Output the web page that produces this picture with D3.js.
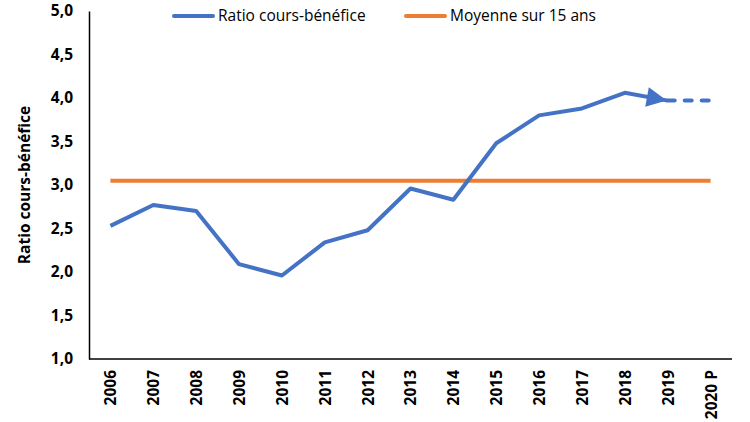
<!DOCTYPE html>
<html><head><meta charset="utf-8">
<script src="https://cdn.jsdelivr.net/npm/d3@7"></script>
<style>body{margin:0;background:#fff}svg{display:block}</style>
</head><body>
<svg id="c" width="750" height="422"></svg>
<script>
const categories = ["2006","2007","2008","2009","2010","2011","2012","2013","2014","2015","2016","2017","2018","2019","2020 P"];
const ratio = [2.53,2.77,2.70,2.09,1.96,2.34,2.48,2.96,2.83,3.48,3.80,3.88,4.06,3.97,3.97];
const average = 3.05;
const yTicks = [1.0,1.5,2.0,2.5,3.0,3.5,4.0,4.5,5.0];
const seriesNames = ["Ratio cours-bénéfice","Moyenne sur 15 ans"];
const yTitle = "Ratio cours-bénéfice";

const blue = "#4472C4", orange = "#ED7D31";
const font = "Open Sans, Liberation Sans, sans-serif";
const svg = d3.select("#c");
const L = 89, R = 732, T = 11, B = 359;
const x = d3.scalePoint().domain(categories).range([L, R]).padding(0.5);
const y = d3.scaleLinear().domain([1, 5]).range([B, T]);

// axes
const fmt = d => d3.format(".1f")(d).replace(".", ",");
const ya = svg.append("g").attr("transform", `translate(${L},0)`)
  .call(d3.axisLeft(y).tickValues(yTicks).tickFormat(fmt).tickSize(0).tickPadding(16));
ya.select(".domain").attr("stroke", "#000").attr("stroke-width", 1.5);
ya.selectAll("text").attr("font-family", font).attr("font-weight", "bold").attr("font-size", 15.5).attr("fill", "#000");

const xa = svg.append("g").attr("transform", `translate(0,${B})`)
  .call(d3.axisBottom(x).tickSize(0).tickPadding(0));
xa.select(".domain").attr("stroke", "#000").attr("stroke-width", 1.5).attr("d", `M${L},0H${R}`);
xa.selectAll("text").attr("font-family", font).attr("font-weight", "bold").attr("font-size", 15.5).attr("fill", "#000")
  .attr("text-anchor", "end").attr("dy", "0.35em")
  .attr("transform", "translate(0,11) rotate(-90)");

// y title
svg.append("text").attr("transform", `translate(30,${(T+B)/2}) rotate(-90)`)
  .attr("text-anchor", "middle").attr("font-family", font).attr("font-weight", "bold")
  .attr("font-size", 15.5).attr("fill", "#000").text(yTitle);

// average line
svg.append("line").attr("x1", x(categories[0])).attr("x2", x(categories[categories.length-1]))
  .attr("y1", y(average)).attr("y2", y(average)).attr("stroke", orange).attr("stroke-width", 4);

// ratio line (solid to 2019, dashed to 2020 P)
const n = categories.length;
const pts = categories.map((c, i) => [x(c), y(ratio[i])]);
const line = d3.line();
svg.append("path").attr("d", line(pts.slice(0, n-1))).attr("fill", "none")
  .attr("stroke", blue).attr("stroke-width", 4).attr("stroke-linejoin", "round");
svg.append("path").attr("d", line(pts.slice(n-2))).attr("fill", "none")
  .attr("stroke", blue).attr("stroke-width", 4).attr("stroke-dasharray", "7,10").attr("stroke-linecap", "round");
// arrowhead at 2019
const [ax, ay] = pts[n-2], [bx, by] = pts[n-3];
const ang = Math.atan2(ay - by, ax - bx);
svg.append("path").attr("d", "M0,0L-20,-10L-20,10Z").attr("fill", blue)
  .attr("transform", `translate(${ax-1},${ay}) rotate(${ang*180/Math.PI})`);

// legend
const leg = [{name: seriesNames[0], color: blue, x: 174}, {name: seriesNames[1], color: orange, x: 406}];
leg.forEach(d => {
  svg.append("line").attr("x1", d.x).attr("x2", d.x + 39).attr("y1", 16).attr("y2", 16)
    .attr("stroke", d.color).attr("stroke-width", 4).attr("stroke-linecap", "round");
  svg.append("text").attr("x", d.x + 44).attr("y", 16).attr("dy", "0.35em")
    .attr("font-family", font).attr("font-size", 15.5).attr("fill", "#000").text(d.name);
});
</script>
</body></html>
